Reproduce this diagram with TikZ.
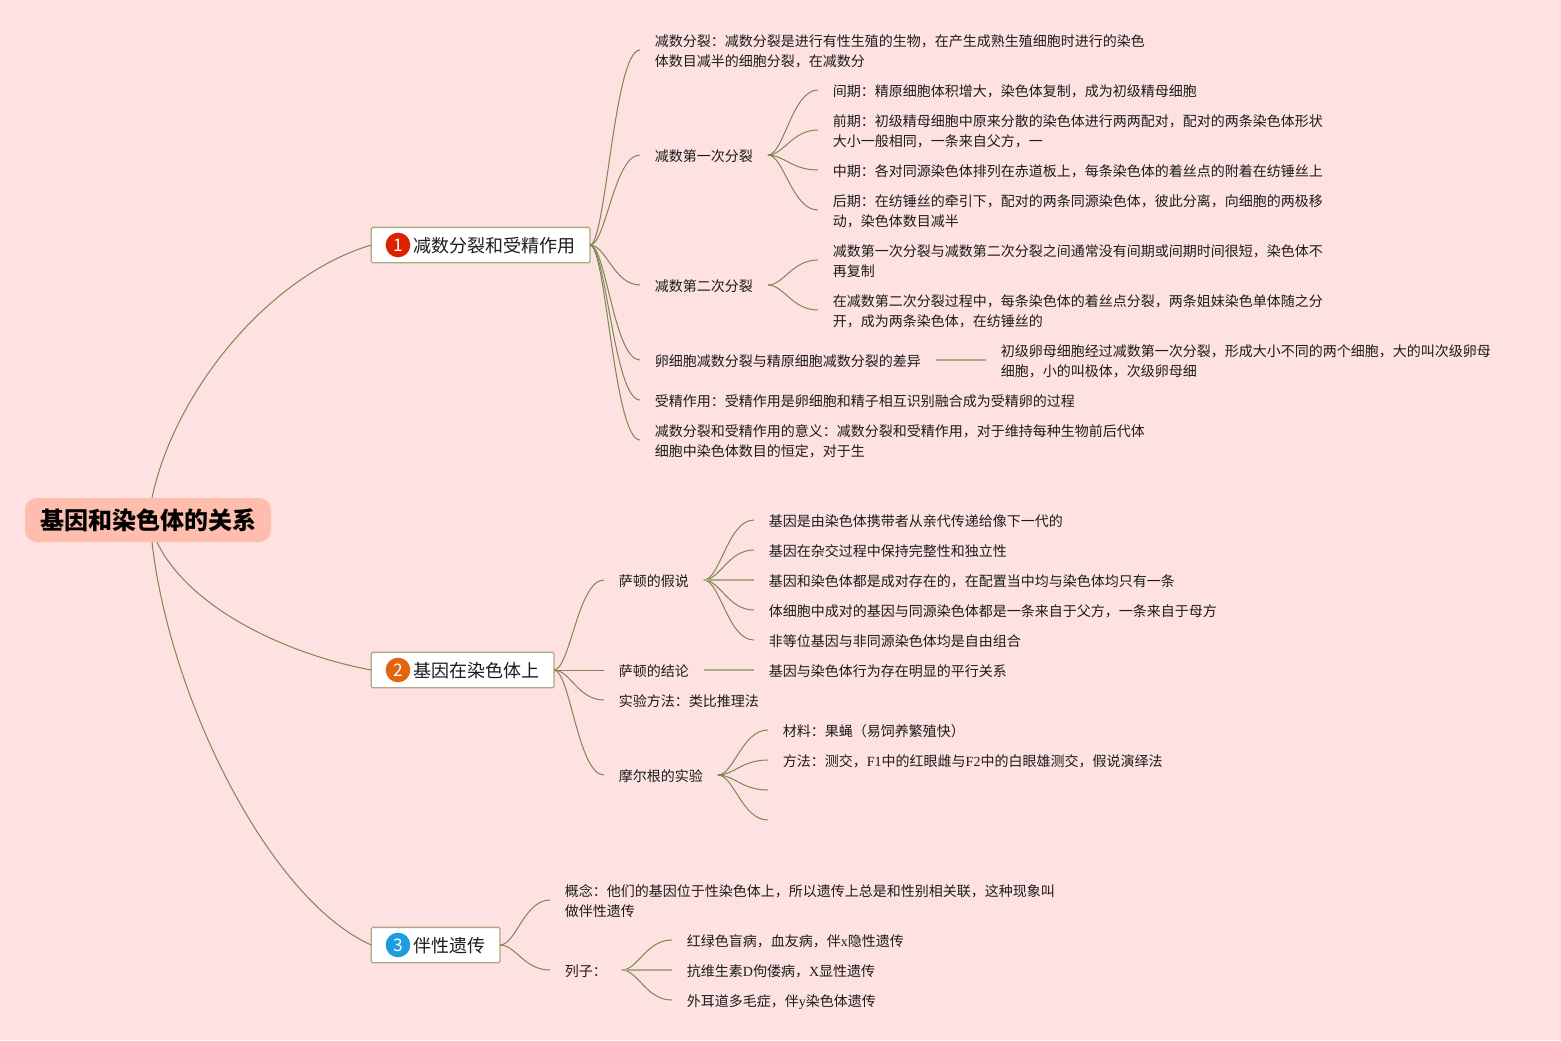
\documentclass[tikz,border=0pt]{standalone}
\usepackage{fontspec}
\setmainfont{Noto Sans CJK SC}
\newfontfamily\lat{Liberation Serif}
\usetikzlibrary{calc}
\definecolor{bgc}{HTML}{FEE1E1}
\definecolor{rootc}{HTML}{FFBDAD}
\definecolor{linkc}{HTML}{7C8752}
\definecolor{lightc}{HTML}{ADAB85}
\definecolor{txtc}{HTML}{1C1C1C}
\definecolor{badgea}{HTML}{DD2200}
\definecolor{badgeb}{HTML}{E2640F}
\definecolor{badgec}{HTML}{1E9CE0}
\newcommand{\conn}[2]{\draw[linkline] (#1.east) .. controls +(16,0) and +(-26,0) .. (#2.west);}
\newcommand{\connc}[2]{\draw[linkline] (#1.east) .. controls +(16,0) and +(-26,0) .. (#2);}
\newcommand{\tx}[1]{{\lat #1}}
\newcommand{\leafstrut}{\rule{0pt}{12.25pt}\rule[-2.75pt]{0pt}{2.75pt}}
\newcommand{\tl}[2]{\rule{0pt}{12.25pt}#1\\#2\rule[-2.75pt]{0pt}{2.75pt}}
\newcommand{\mainstrut}{\rule{0pt}{15pt}\rule[-4pt]{0pt}{4pt}}
\tikzset{
 x=0.75pt,y=-0.75pt,
 rootbox/.style={fill=rootc,rounded corners=9pt,minimum width=184.5pt,minimum height=33pt,inner sep=0pt,text=black,font=\fontsize{18pt}{22pt}\selectfont\bfseries},
 mainbox/.style={draw=lightc,line width=1pt,fill=white,rounded corners=1pt,minimum height=26.5pt,outer sep=0pt,inner xsep=11.25pt,inner ysep=0pt,anchor=west,text=txtc,font=\fontsize{13.5pt}{16pt}\selectfont},
 twoline/.style={anchor=west,yshift=0.75pt,inner xsep=11pt,inner ysep=0pt,align=left,text=txtc,font=\fontsize{10.5pt}{15pt}\selectfont},
 leaf/.style={twoline,execute at begin node=\leafstrut,execute at end node=\leafstrut},
 badge/.style={circle,minimum size=18.5pt,inner sep=0pt,text=white,font=\fontsize{13pt}{14pt}\selectfont},
 linkline/.style={draw=linkc,line width=0.75pt},
 straightline/.style={draw=lightc,line width=1.1pt},
}
\newcommand{\pad}{\hspace*{20.75pt}}
\newcommand{\unpad}{\hspace*{-0.75pt}}
\begin{document}
\begin{tikzpicture}
\useasboundingbox[fill=bgc] (0,0) rectangle (1561,1040);
% root and main branches
\node[rootbox] (root) at (148,520) {\hspace*{1.5pt}\raisebox{-1pt}{基因和染色体的关系}};
\node[mainbox] (m1) at (371.3,245) {\pad\mainstrut 减数分裂和受精作用\unpad};
\node[mainbox] (m2) at (371.3,670) {\pad\mainstrut 基因在染色体上\unpad};
\node[mainbox] (m3) at (371.3,945) {\pad\mainstrut 伴性遗传\unpad};
\node[badge,fill=badgea] (n1) at (398,245) {1};
\node[badge,fill=badgeb] (n2) at (398,670) {2};
\node[badge,fill=badgec] (n3) at (398,945) {3};
\draw[linkline] ($(root.north)+(4,0)$) .. controls (175,390) and (270,275) .. (m1.west);
\draw[linkline] ($(root.south)+(9,0)$) .. controls (190,610) and (290,655) .. (m2.west);
\draw[linkline] ($(root.south)+(4,0)$) .. controls (170,700) and (270,900) .. (m3.west);
% group 1
\node[twoline] (a1) at (640,51) {\tl{减数分裂：减数分裂是进行有性生殖的生物，在产生成熟生殖细胞时进行的染色}{体数目减半的细胞分裂，在减数分}};
\node[leaf] (a2) at (640,156) {减数第一次分裂};
\node[leaf] (a3) at (640,286) {减数第二次分裂};
\node[leaf] (a4) at (640,361) {卵细胞减数分裂与精原细胞减数分裂的差异};
\node[leaf] (a5) at (640,401) {受精作用：受精作用是卵细胞和精子相互识别融合成为受精卵的过程};
\node[twoline] (a6) at (640,441) {\tl{减数分裂和受精作用的意义：减数分裂和受精作用，对于维持每种生物前后代体}{细胞中染色体数目的恒定，对于生}};
\node[leaf] (a21) at (818,91) {间期：精原细胞体积增大，染色体复制，成为初级精母细胞};
\node[twoline] (a22) at (818,131) {\tl{前期：初级精母细胞中原来分散的染色体进行两两配对，配对的两条染色体形状}{大小一般相同，一条来自父方，一}};
\node[leaf] (a23) at (818,171) {中期：各对同源染色体排列在赤道板上，每条染色体的着丝点的附着在纺锤丝上};
\node[twoline] (a24) at (818,211) {\tl{后期：在纺锤丝的牵引下，配对的两条同源染色体，彼此分离，向细胞的两极移}{动，染色体数目减半}};
\node[twoline] (a31) at (818,261) {\tl{减数第一次分裂与减数第二次分裂之间通常没有间期或间期时间很短，染色体不}{再复制}};
\node[twoline] (a32) at (818,311) {\tl{在减数第二次分裂过程中，每条染色体的着丝点分裂，两条姐妹染色单体随之分}{开，成为两条染色体，在纺锤丝的}};
\node[twoline] (a41) at (986,361) {\tl{初级卵母细胞经过减数第一次分裂，形成大小不同的两个细胞，大的叫次级卵母}{细胞，小的叫极体，次级卵母细}};
\foreach \c in {a1,a2,a3,a4,a5,a6} {\conn{m1}{\c}}
\foreach \c in {a21,a22,a23,a24} {\conn{a2}{\c}}
\foreach \c in {a31,a32} {\conn{a3}{\c}}
\draw[straightline] (a4.east) -- (a41.west);
% group 2
\node[leaf] (b1) at (604,581) {萨顿的假说};
\node[leaf] (b2) at (604,671) {萨顿的结论};
\node[leaf] (b3) at (604,701) {实验方法：类比推理法};
\node[leaf] (b4) at (604,776) {摩尔根的实验};
\node[leaf] (b11) at (754,521) {基因是由染色体携带者从亲代传递给像下一代的};
\node[leaf] (b12) at (754,551) {基因在杂交过程中保持完整性和独立性};
\node[leaf] (b13) at (754,581) {基因和染色体都是成对存在的，在配置当中均与染色体均只有一条};
\node[leaf] (b14) at (754,611) {体细胞中成对的基因与同源染色体都是一条来自于父方，一条来自于母方};
\node[leaf] (b15) at (754,641) {非等位基因与非同源染色体均是自由组合};
\node[leaf] (b21) at (754,671) {基因与染色体行为存在明显的平行关系};
\node[leaf] (b41) at (768,731) {材料：果蝇（易饲养繁殖快）};
\node[leaf] (b42) at (768,761) {方法：测交，\tx{F1}中的红眼雌与\tx{F2}中的白眼雄测交，假说演绎法};
\coordinate (b43) at (768,790);
\coordinate (b44) at (768,820);
\foreach \c in {b1,b2,b3,b4} {\conn{m2}{\c}}
\foreach \c in {b11,b12,b14,b15} {\conn{b1}{\c}}
\draw[straightline] (b1.east) -- (b13.west);
\draw[straightline] (b2.east) -- (b21.west);
\foreach \c in {b41,b42} {\conn{b4}{\c}}
\foreach \c in {b43,b44} {\connc{b4}{\c}}
% group 3
\node[twoline] (c1) at (550,901) {\tl{概念：他们的基因位于性染色体上，所以遗传上总是和性别相关联，这种现象叫}{做伴性遗传}};
\node[leaf] (c2) at (550,971) {列子：};
\node[leaf] (c21) at (672,941) {红绿色盲病，血友病，伴\tx{x}隐性遗传};
\node[leaf] (c22) at (672,971) {抗维生素\tx{D}佝偻病，\tx{X}显性遗传};
\node[leaf] (c23) at (672,1001) {外耳道多毛症，伴\tx{y}染色体遗传};
\foreach \c in {c1,c2} {\conn{m3}{\c}}
\foreach \c in {c21,c23} {\conn{c2}{\c}}
\draw[straightline] (c2.east) -- (c22.west);
\end{tikzpicture}
\end{document}
